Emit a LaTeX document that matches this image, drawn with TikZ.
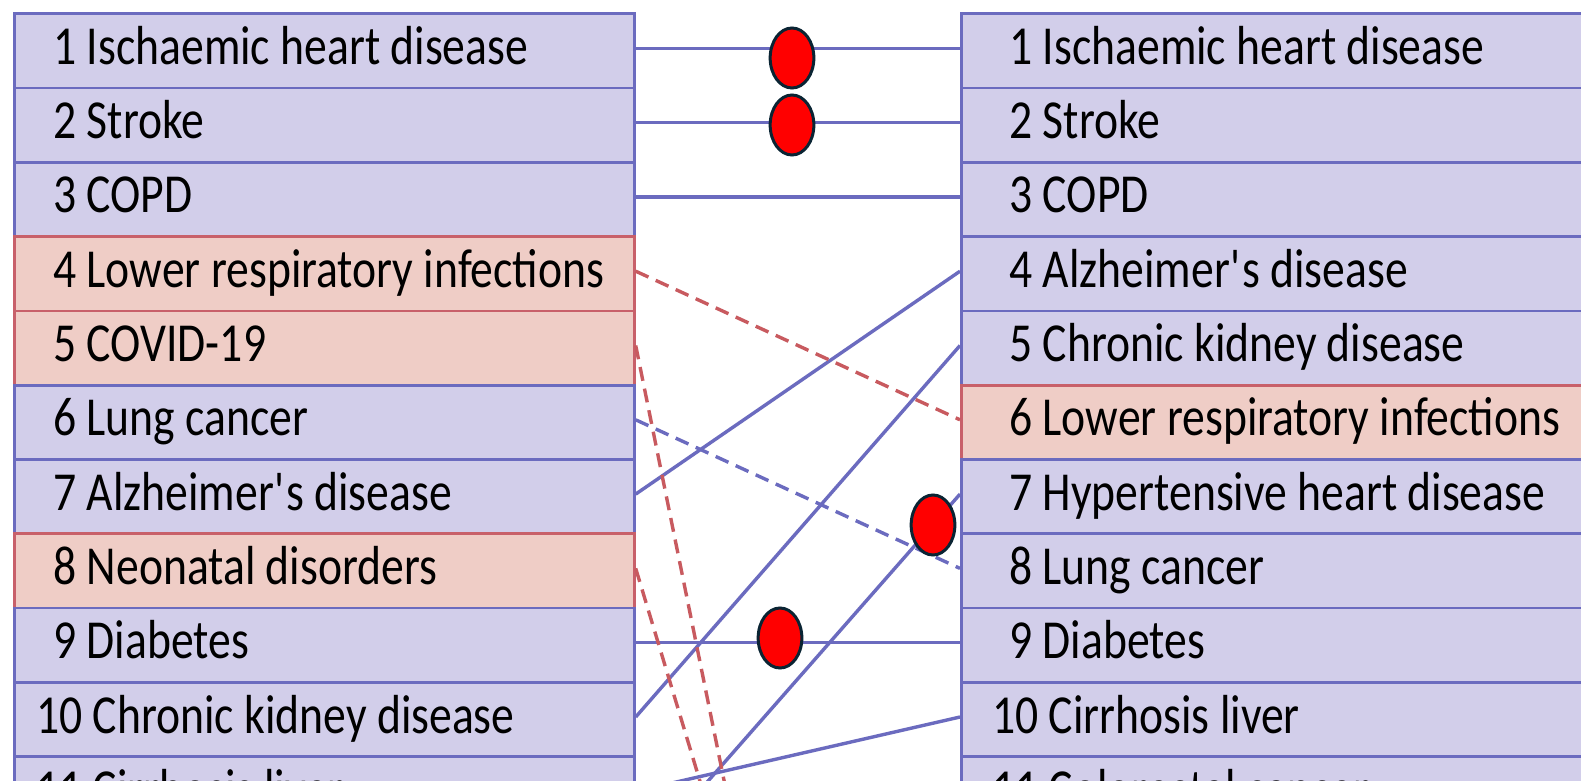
\documentclass[tikz,border=0pt]{standalone}
\usepackage{fontspec}
\setmainfont{Carlito}[FakeStretch=0.83]
\usetikzlibrary{shapes.geometric}

\definecolor{boxblue}{HTML}{D2CEEA}
\definecolor{boxred}{HTML}{EFCDC6}
\definecolor{lineblue}{HTML}{6B6BBF}
\definecolor{linered}{HTML}{C85A5F}
\definecolor{edgered}{HTML}{C8606A}
\definecolor{flagedge}{HTML}{0A2433}

% rank + cause, single digits pushed right
\newcommand{\dlabel}[2]{\makebox[576pt][l]{\ifnum#1<10\hspace*{17pt}\fi#1 #2}}

\begin{document}
\begin{tikzpicture}[x=1pt, y=-1pt,
    every node/.style={font=\fontsize{55}{60}\selectfont},
    cause/.style={rectangle, draw=lineblue, fill=boxblue, line width=2.7pt,
        anchor=north west, minimum height=74.3pt, inner ysep=0pt,
        text height=35pt, text depth=8pt},
    leftcol/.style={cause, inner xsep=22pt},
    rightcol/.style={cause, inner xsep=31pt},
    infect/.style={draw=edgered, fill=boxred},
    link/.style={lineblue, line width=3.4pt, transform canvas={yshift=2.5pt}},
    shiftlink/.style={link, dash pattern=on 14pt off 8pt},
    droplink/.style={link, linered, dash pattern=on 14pt off 8pt},
    flag/.style={ellipse, draw=flagedge, fill=red, line width=3pt,
        minimum width=43.7pt, minimum height=60pt, inner sep=0pt}]

    \useasboundingbox (0,0) rectangle (1581,781);
    \fill[white] (0,0) rectangle (1581,781);
    \clip (0,0) rectangle (1581,781);

    % Ranking à esquerda
    \node[leftcol] (L1) at (13,12.3) {\dlabel{1}{Ischaemic heart disease}};
    \node[leftcol] (L2) at (13,86.6) {\dlabel{2}{Stroke}};
    \node[leftcol] (L3) at (13,160.9) {\dlabel{3}{COPD}};
    \node[leftcol, infect] (L4) at (13,235.2) {\dlabel{4}{Lower respiratory infections}};
    \node[leftcol, infect] (L5) at (13,309.5) {\dlabel{5}{COVID-19}};
    \node[leftcol] (L6) at (13,383.8) {\dlabel{6}{Lung cancer}};
    \node[leftcol] (L7) at (13,458.1) {\dlabel{7}{Alzheimer\textquotesingle s disease}};
    \node[leftcol, infect] (L8) at (13,532.4) {\dlabel{8}{Neonatal disorders}};
    \node[leftcol] (L9) at (13,606.7) {\dlabel{9}{Diabetes}};
    \node[leftcol] (L10) at (13,681.0) {\dlabel{10}{Chronic kidney disease}};
    \node[leftcol] (L11) at (13,755.3) {\dlabel{11}{Cirrhosis liver}};

    % Ranking à direita
    \node[rightcol] (R1) at (960,12.3) {\dlabel{1}{Ischaemic heart disease}};
    \node[rightcol] (R2) at (960,86.6) {\dlabel{2}{Stroke}};
    \node[rightcol] (R3) at (960,160.9) {\dlabel{3}{COPD}};
    \node[rightcol] (R4) at (960,235.2) {\dlabel{4}{Alzheimer\textquotesingle s disease}};
    \node[rightcol] (R5) at (960,309.5) {\dlabel{5}{Chronic kidney disease}};
    \node[rightcol, infect] (R6) at (960,383.8) {\dlabel{6}{Lower respiratory infections}};
    \node[rightcol] (R7) at (960,458.1) {\dlabel{7}{Hypertensive heart disease}};
    \node[rightcol] (R8) at (960,532.4) {\dlabel{8}{Lung cancer}};
    \node[rightcol] (R9) at (960,606.7) {\dlabel{9}{Diabetes}};
    \node[rightcol] (R10) at (960,681.0) {\dlabel{10}{Cirrhosis liver}};
    \node[rightcol] (R11) at (960,755.3) {\dlabel{11}{Colorectal cancer}};

    % Pontas fora do quadro
    \coordinate (l12) at (633,869);
    \coordinate (r5) at (960,1945);
    \coordinate (r8) at (960,1645);

    % Mesma posição
    \draw[link] (L1.east) -- (R1.west);
    \draw[link] (L2.east) -- (R2.west);
    \draw[link] (L3.east) -- (R3.west);
    \draw[link] (L9.east) -- (R9.west);

    % Subidas
    \draw[link] (L7.east) -- (R4.west);
    \draw[link] (L10.east) -- (R5.west);
    \draw[link] (L11.east) -- (R10.west);
    \draw[link] (l12) -- (R7.west);

    % Descidas
    \draw[shiftlink] (L6.east) -- (R8.west);
    \draw[droplink] (L4.east) -- (R6.west);
    \draw[droplink] (L5.east) -- (r5);
    \draw[droplink] (L8.east) -- (r8);

    % Marcadores
    \node[flag] (d1) at (792,58) {};
    \node[flag] (d2) at (792,125) {};
    \node[flag] (d3) at (780,638) {};
    \node[flag] (d4) at (933,525) {};
\end{tikzpicture}
\end{document}
